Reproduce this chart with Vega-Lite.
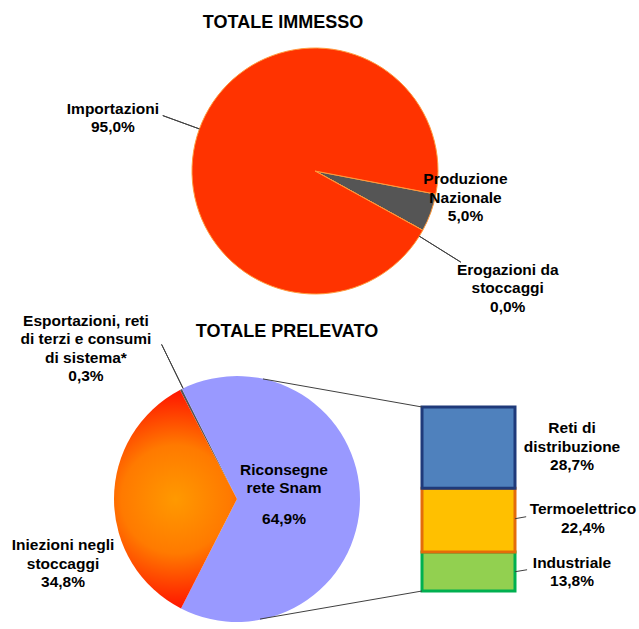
{
  "$schema": "https://vega.github.io/schema/vega-lite/v6.json",
  "background": "white",
  "padding": {"left": 0, "top": 14, "right": 0, "bottom": 0},
  "bounds": "flush",
  "spacing": 82,
  "resolve": {"scale": {"color": "independent", "fill": "independent", "stroke": "independent", "theta": "independent", "x": "independent", "y": "independent"}},
  "config": {
    "view": {"stroke": null},
    "font": "Liberation Sans",
    "title": {"font": "Liberation Sans", "fontSize": 18, "fontWeight": "bold", "color": "#000000", "anchor": "middle", "frame": "group", "baseline": "alphabetic"},
    "text": {"font": "Liberation Sans", "fontSize": 15.5, "fontWeight": "bold", "color": "#000000", "lineBreak": "\n", "lineHeight": 18.5, "align": "center", "baseline": "middle"}
  },
  "vconcat": [
    {
      "title": {"text": "TOTALE IMMESSO", "offset": 14, "dx": -32},
      "width": 630,
      "height": 246,
      "data": {"values": [
        {"voce": "Produzione Nazionale", "quota": 5.0, "ordine": 1, "etichetta": "Produzione\nNazionale\n5,0%"},
        {"voce": "Erogazioni da stoccaggi", "quota": 0.0, "ordine": 2, "etichetta": "Erogazioni da\nstoccaggi\n0,0%"},
        {"voce": "Importazioni", "quota": 95.0, "ordine": 3, "etichetta": "Importazioni\n95,0%"}
      ]},
      "resolve": {"scale": {"theta": "independent"}},
      "layer": [
        {
          "mark": {"type": "arc", "outerRadius": 123, "stroke": "#FF9A3C", "strokeWidth": 1},
          "encoding": {
            "theta": {"field": "quota", "type": "quantitative", "stack": true, "scale": {"range": [1.76, 8.043]}},
            "order": {"field": "ordine", "type": "quantitative"},
            "color": {"field": "voce", "type": "nominal", "legend": null,
              "scale": {"domain": ["Produzione Nazionale", "Erogazioni da stoccaggi", "Importazioni"], "range": ["#555555", "#7F7F7F", "#FF3300"]}}
          }
        },
        {
          "mark": {"type": "arc", "filled": false, "outerRadius": 162, "innerRadius": 123, "stroke": "#404040", "strokeWidth": 1},
          "encoding": {
            "theta": {"field": "quota", "type": "quantitative", "stack": true, "scale": {"range": [5.0614, 5.0634]}},
            "order": {"field": "ordine", "type": "quantitative"},
            "strokeOpacity": {"condition": {"test": "datum.voce === 'Erogazioni da stoccaggi'", "value": 1}, "value": 0}
          }
        },
        {
          "mark": {"type": "arc", "filled": false, "outerRadius": 172, "innerRadius": 123, "stroke": "#404040", "strokeWidth": 1},
          "encoding": {
            "theta": {"field": "quota", "type": "quantitative", "stack": true, "scale": {"range": [2.1293, 2.1313]}},
            "order": {"field": "ordine", "type": "quantitative"},
            "strokeOpacity": {"condition": {"test": "datum.voce === 'Erogazioni da stoccaggi'", "value": 1}, "value": 0}
          }
        },
        {
          "mark": {"type": "text", "radius": 200, "dx": -14, "dy": 5.5},
          "encoding": {
            "theta": {"field": "quota", "type": "quantitative", "stack": true, "scale": {"range": [1.76, 8.043]}},
            "order": {"field": "ordine", "type": "quantitative"},
            "text": {"condition": {"test": "datum.voce === 'Importazioni'", "field": "etichetta"}, "value": ""}
          }
        },
        {
          "mark": {"type": "text", "radius": 160, "dx": 0, "dy": -46},
          "encoding": {
            "theta": {"field": "quota", "type": "quantitative", "stack": true, "scale": {"range": [1.76, 8.043]}},
            "order": {"field": "ordine", "type": "quantitative"},
            "text": {"condition": {"test": "datum.voce === 'Produzione Nazionale'", "field": "etichetta"}, "value": ""}
          }
        },
        {
          "mark": {"type": "text", "radius": 220, "dx": 0, "dy": -7.5},
          "encoding": {
            "theta": {"field": "quota", "type": "quantitative", "stack": true, "scale": {"range": [1.76, 8.043]}},
            "order": {"field": "ordine", "type": "quantitative"},
            "text": {"condition": {"test": "datum.voce === 'Erogazioni da stoccaggi'", "field": "etichetta"}, "value": ""}
          }
        }
      ]
    },
    {
      "hconcat": [
        {
          "title": {"text": "TOTALE PRELEVATO", "offset": -27, "dx": 50},
          "width": 474,
          "height": 246,
          "data": {"values": [
            {"voce": "Esportazioni, reti di terzi e consumi di sistema", "quota": 0.3, "ordine": 1, "etichetta": "Esportazioni, reti\ndi terzi e consumi\ndi sistema*\n0,3%", "percentuale": "0,3%"},
            {"voce": "Riconsegne rete Snam", "quota": 64.9, "ordine": 2, "etichetta": "Riconsegne\nrete Snam", "percentuale": "64,9%"},
            {"voce": "Iniezioni negli stoccaggi", "quota": 34.8, "ordine": 3, "etichetta": "Iniezioni negli\nstoccaggi\n34,8%", "percentuale": "34,8%"}
          ]},
          "resolve": {"scale": {"theta": "independent"}},
          "layer": [
            {
              "mark": {"type": "arc", "outerRadius": 123},
              "encoding": {
                "theta": {"field": "quota", "type": "quantitative", "stack": true, "scale": {"range": [5.801, 12.084]}},
                "order": {"field": "ordine", "type": "quantitative"},
                "fill": {
                  "condition": {"test": "datum.voce === 'Iniezioni negli stoccaggi'",
                    "value": {"gradient": "radial", "x1": 0.5, "y1": 0.5, "r1": 0, "x2": 0.5, "y2": 0.5, "r2": 0.55,
                      "stops": [{"offset": 0, "color": "#FF9900"}, {"offset": 0.45, "color": "#FF7A00"}, {"offset": 1, "color": "#FF0000"}]}},
                  "field": "voce", "type": "nominal", "legend": null,
                  "scale": {"domain": ["Esportazioni, reti di terzi e consumi di sistema", "Riconsegne rete Snam", "Iniezioni negli stoccaggi"], "range": ["#555555", "#9999FF", "#FF3300"]}
                }
              }
            },
            {
              "mark": {"type": "arc", "filled": false, "outerRadius": 172, "innerRadius": 123, "stroke": "#404040", "strokeWidth": 1},
              "encoding": {
                "theta": {"field": "quota", "type": "quantitative", "stack": true, "scale": {"range": [5.8294, 5.8314]}},
                "order": {"field": "ordine", "type": "quantitative"},
                "strokeOpacity": {"condition": {"test": "datum.ordine === 1", "value": 1}, "value": 0}
              }
            },
            {
              "mark": {"type": "text", "radius": 47, "dy": -29.5},
              "encoding": {
                "theta": {"field": "quota", "type": "quantitative", "stack": true, "scale": {"range": [5.801, 12.084]}},
                "order": {"field": "ordine", "type": "quantitative"},
                "text": {"condition": {"test": "datum.voce === 'Riconsegne rete Snam'", "field": "etichetta"}, "value": ""}
              }
            },
            {
              "mark": {"type": "text", "radius": 47, "dy": 19.5},
              "encoding": {
                "theta": {"field": "quota", "type": "quantitative", "stack": true, "scale": {"range": [5.801, 12.084]}},
                "order": {"field": "ordine", "type": "quantitative"},
                "text": {"condition": {"test": "datum.voce === 'Riconsegne rete Snam'", "field": "percentuale"}, "value": ""}
              }
            },
            {
              "mark": {"type": "text", "radius": 174, "dy": 45.5},
              "encoding": {
                "theta": {"field": "quota", "type": "quantitative", "stack": true, "scale": {"range": [5.801, 12.084]}},
                "order": {"field": "ordine", "type": "quantitative"},
                "text": {"condition": {"test": "datum.voce === 'Iniezioni negli stoccaggi'", "field": "etichetta"}, "value": ""}
              }
            },
            {
              "mark": {"type": "text", "radius": 100, "dx": -105.5, "dy": -89},
              "encoding": {
                "theta": {"field": "quota", "type": "quantitative", "stack": true, "scale": {"range": [5.801, 12.084]}},
                "order": {"field": "ordine", "type": "quantitative"},
                "text": {"condition": {"test": "datum.ordine === 1", "field": "etichetta"}, "value": ""}
              }
            }
          ]
        },
        {
          "width": 93,
          "height": 184,
          "data": {"values": [
            {"voce": "Industriale", "quota": 13.8, "ordine": 1, "etichetta": "Industriale\n13,8%"},
            {"voce": "Termoelettrico", "quota": 22.4, "ordine": 2, "etichetta": "Termoelettrico\n22,4%"},
            {"voce": "Reti di distribuzione", "quota": 28.7, "ordine": 3, "etichetta": "Reti di\ndistribuzione\n28,7%"}
          ]},
          "layer": [
            {
              "mark": {"type": "bar", "orient": "vertical", "strokeWidth": 3},
              "encoding": {
                "x": {"datum": 0, "type": "quantitative", "scale": {"domain": [0.5591, 1.5591], "nice": false, "zero": false, "padding": 0}, "axis": null},
                "x2": {"datum": 1},
                "y": {"field": "quota", "type": "quantitative", "stack": "zero", "scale": {"domain": [0, 64.9], "nice": false}, "axis": null},
                "order": {"field": "ordine", "type": "quantitative"},
                "fill": {"field": "voce", "type": "nominal", "legend": null,
                  "scale": {"domain": ["Industriale", "Termoelettrico", "Reti di distribuzione"], "range": ["#92D050", "#FFC000", "#4F81BD"]}},
                "stroke": {"field": "voce", "type": "nominal", "legend": null,
                  "scale": {"domain": ["Industriale", "Termoelettrico", "Reti di distribuzione"], "range": ["#00B050", "#E46C0A", "#1F3A7A"]}}
              }
            },
            {
              "mark": {"type": "text", "dy": -19.5},
              "encoding": {
                "x": {"datum": 1.613, "type": "quantitative", "scale": {"domain": [0.5591, 1.5591], "nice": false, "zero": false, "padding": 0}, "axis": null},
                "y": {"field": "quota", "type": "quantitative", "stack": "zero", "bandPosition": 0.5, "scale": {"domain": [0, 64.9], "nice": false}, "axis": null},
                "order": {"field": "ordine", "type": "quantitative"},
                "text": {"condition": {"test": "datum.ordine === 3", "field": "etichetta"}, "value": ""}
              }
            },
            {
              "mark": {"type": "text", "dy": -11},
              "encoding": {
                "x": {"datum": 1.73, "type": "quantitative", "scale": {"domain": [0.5591, 1.5591], "nice": false, "zero": false, "padding": 0}, "axis": null},
                "y": {"field": "quota", "type": "quantitative", "stack": "zero", "bandPosition": 0.5, "scale": {"domain": [0, 64.9], "nice": false}, "axis": null},
                "order": {"field": "ordine", "type": "quantitative"},
                "text": {"condition": {"test": "datum.ordine === 2", "field": "etichetta"}, "value": ""}
              }
            },
            {
              "mark": {"type": "text", "dy": -8.5},
              "encoding": {
                "x": {"datum": 1.613, "type": "quantitative", "scale": {"domain": [0.5591, 1.5591], "nice": false, "zero": false, "padding": 0}, "axis": null},
                "y": {"field": "quota", "type": "quantitative", "stack": "zero", "bandPosition": 0.5, "scale": {"domain": [0, 64.9], "nice": false}, "axis": null},
                "order": {"field": "ordine", "type": "quantitative"},
                "text": {"condition": {"test": "datum.ordine === 1", "field": "etichetta"}, "value": ""}
              }
            },
            {
              "data": {"values": [{"tratto": "raccordo superiore"}]},
              "mark": {"type": "rule", "color": "#404040", "strokeWidth": 1},
              "encoding": {
                "x": {"datum": -1.71, "type": "quantitative", "scale": {"domain": [0.5591, 1.5591], "nice": false, "zero": false, "padding": 0}, "axis": null},
                "x2": {"datum": 0},
                "y": {"datum": 74.8, "type": "quantitative", "scale": {"domain": [0, 64.9], "nice": false}, "axis": null},
                "y2": {"datum": 64.9}
              }
            },
            {
              "data": {"values": [{"tratto": "raccordo inferiore"}]},
              "mark": {"type": "rule", "color": "#404040", "strokeWidth": 1},
              "encoding": {
                "x": {"datum": -1.742, "type": "quantitative", "scale": {"domain": [0.5591, 1.5591], "nice": false, "zero": false, "padding": 0}, "axis": null},
                "x2": {"datum": 0},
                "y": {"datum": -9.9, "type": "quantitative", "scale": {"domain": [0, 64.9], "nice": false}, "axis": null},
                "y2": {"datum": 0}
              }
            },
            {
              "data": {"values": [{"tratto": "richiamo Termoelettrico"}]},
              "mark": {"type": "rule", "color": "#404040", "strokeWidth": 1},
              "encoding": {
                "x": {"datum": 1.0, "type": "quantitative", "scale": {"domain": [0.5591, 1.5591], "nice": false, "zero": false, "padding": 0}, "axis": null},
                "x2": {"datum": 1.12},
                "y": {"datum": 25.5, "type": "quantitative", "scale": {"domain": [0, 64.9], "nice": false}, "axis": null},
                "y2": {"datum": 26.2}
              }
            },
            {
              "data": {"values": [{"tratto": "richiamo Industriale"}]},
              "mark": {"type": "rule", "color": "#404040", "strokeWidth": 1},
              "encoding": {
                "x": {"datum": 1.0, "type": "quantitative", "scale": {"domain": [0.5591, 1.5591], "nice": false, "zero": false, "padding": 0}, "axis": null},
                "x2": {"datum": 1.13},
                "y": {"datum": 6.8, "type": "quantitative", "scale": {"domain": [0, 64.9], "nice": false}, "axis": null},
                "y2": {"datum": 7.5}
              }
            }
          ]
        }
      ],
      "spacing": 0,
      "center": true,
      "bounds": "flush",
      "resolve": {"scale": {"fill": "independent", "stroke": "independent", "theta": "independent", "x": "independent", "y": "independent"}}
    }
  ]
}
